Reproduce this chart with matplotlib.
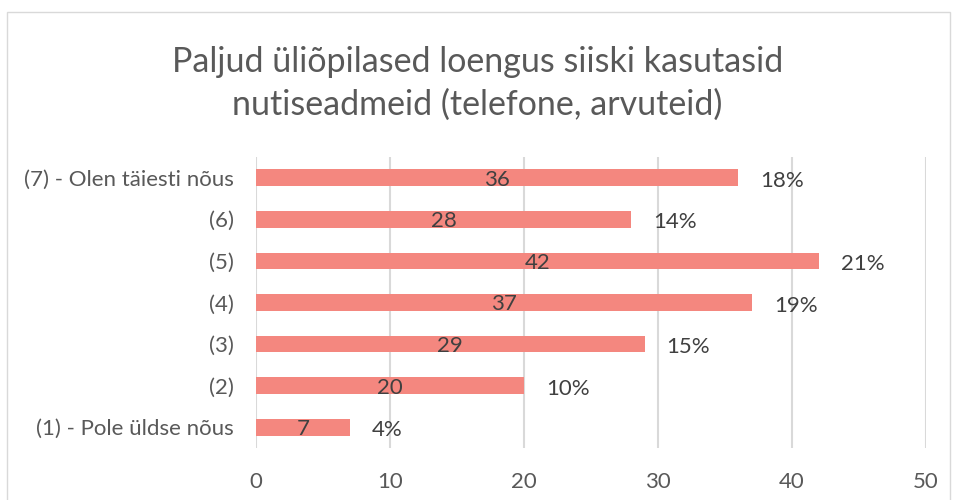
import matplotlib
matplotlib.use("Agg")
import matplotlib.pyplot as plt
from matplotlib.patches import Rectangle

categories = ["(1) - Pole üldse nõus", "(2)", "(3)", "(4)", "(5)", "(6)", "(7) - Olen täiesti nõus"]
counts = [7, 20, 29, 37, 42, 28, 36]
percent_labels = ["4%", "10%", "15%", "19%", "21%", "14%", "18%"]
xticks = [0, 10, 20, 30, 40, 50]
title = "Paljud üliõpilased loengus siiski kasutasid\nnutiseadmeid (telefone, arvuteid)"

plt.rcParams['font.family'] = ['Lato', 'DejaVu Sans']

W, H = 955, 500
fig = plt.figure(figsize=(W / 100, H / 100), dpi=100)
fig.patches.append(Rectangle((7 / W, -0.1), (950 - 7) / W, 1.1 - 12 / H + 0.0,
                             transform=fig.transFigure, fill=False,
                             edgecolor="#d9d9d9", linewidth=1.0))

ax = fig.add_axes([256 / W, 1 - 448 / H, (926 - 256) / W, (448 - 157) / H])
y = list(range(len(categories)))
ax.barh(y, counts, height=0.4, color="#F4877F", zorder=3)
ax.set_xlim(0, 50)
ax.set_ylim(-0.5, len(categories) - 0.5)
ax.set_xticks(xticks)
ax.set_xticklabels([str(t) for t in xticks])
ax.set_yticks(y)
ax.set_yticklabels(categories)
ax.tick_params(axis="both", length=0, colors="#595959", labelsize=16)
ax.tick_params(axis="x", pad=17)
ax.tick_params(axis="y", pad=16)
for s in ax.spines.values():
    s.set_visible(False)
ax.grid(axis="x", color="#d9d9d9", linewidth=1.5, zorder=0)
ax.set_axisbelow(True)

for yi, c, p in zip(y, counts, percent_labels):
    ax.annotate(str(c), (c / 2, yi), xytext=(0, -2), textcoords="offset pixels",
                ha="center", va="center", fontsize=16, color="#404040", zorder=4)
    ax.annotate(p, (c, yi), xytext=(22, -3), textcoords="offset pixels",
                ha="left", va="center", fontsize=16, color="#404040", zorder=4)

fig.text(0.5, 1 - 83 / H, title, ha="center", va="center", fontsize=24.5,
         color="#595959", linespacing=1.4)

fig.savefig("out.png", dpi=100)
